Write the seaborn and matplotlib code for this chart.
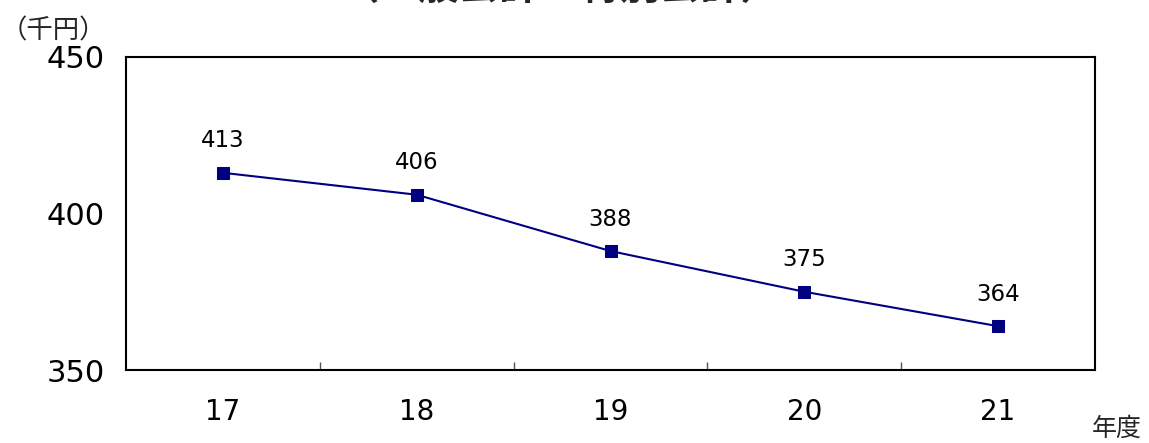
import pandas as pd
import seaborn as sns
import matplotlib.pyplot as plt

years = ['17', '18', '19', '20', '21']
values = [413, 406, 388, 375, 364]
title = '（一般会計＋特別会計）'
y_unit = '（千円）'
x_unit = '年度'

df = pd.DataFrame({'year': years, 'value': values})

sns.set_style('white')
plt.rcParams['font.family'] = ['DejaVu Sans', 'Noto Sans CJK JP']
cjk = ['Noto Sans CJK JP', 'DejaVu Sans']

fig = plt.figure(figsize=(11.49, 4.43), dpi=100)
ax = fig.add_axes([126 / 1149, 1 - 370 / 443, (1095 - 126) / 1149, (370 - 57) / 443])

sns.lineplot(data=df, x='year', y='value', ax=ax, color='#000080',
             marker='s', markersize=9, markeredgecolor='#000080',
             linewidth=1.5, sort=False)

# value labels above each point
for i, v in enumerate(values):
    ax.annotate(str(v), (i, v), xytext=(0, 23), textcoords='offset points',
                ha='center', va='center', fontsize=16.5, color='black')

ax.set_xlim(-0.5, 4.5)
ax.set_ylim(350, 450)
ax.set_yticks([350, 400, 450])
ax.set_xticks(range(len(years)))
ax.set_xticklabels(years)
ax.set_xticks([0.5, 1.5, 2.5, 3.5], minor=True)
ax.tick_params(axis='x', which='major', length=0, pad=20, labelsize=20, labelcolor='black')
ax.tick_params(axis='x', which='minor', direction='in', length=6, width=1, color='#555555', bottom=True)
ax.tick_params(axis='y', length=0, pad=15, labelsize=22, labelcolor='black')
ax.set_xlabel('')
ax.set_ylabel('')
for s in ax.spines.values():
    s.set_color('black')
    s.set_linewidth(1.5)

fig.text(1 / 1149, 1 - 38 / 443, y_unit, fontsize=19, ha='left', va='baseline', family=cjk)
fig.text(1142 / 1149, 1 - 436 / 443, x_unit, fontsize=18, ha='right', va='baseline', family=cjk)
fig.text(560 / 1149, 1 + 1 / 443, title, fontsize=29, fontweight='bold', ha='center', va='baseline', family=cjk)

fig.savefig('out.png', dpi=100)
